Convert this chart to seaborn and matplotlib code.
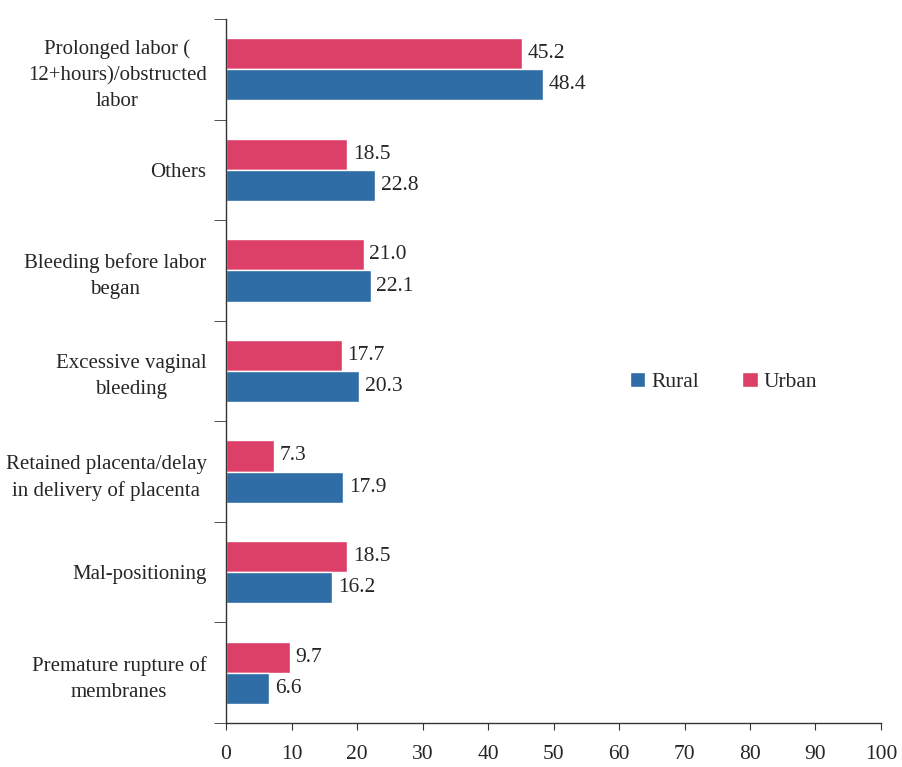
import numpy as np
import pandas as pd
import seaborn as sns
import matplotlib.pyplot as plt

categories = [
    "Prolonged labor (\n12+hours)/obstructed\nlabor",
    "Others",
    "Bleeding before labor\nbegan",
    "Excessive vaginal\nbleeding",
    "Retained placenta/delay\nin delivery of placenta",
    "Mal-positioning",
    "Premature rupture of\nmembranes",
]
urban = [45.2, 18.5, 21.0, 17.7, 7.3, 18.5, 9.7]
rural = [48.4, 22.8, 22.1, 20.3, 17.9, 16.2, 6.6]

df = pd.DataFrame({
    "category": categories * 2,
    "value": urban + rural,
    "area": ["Urban"] * len(categories) + ["Rural"] * len(categories),
})

sns.set_style("white")
plt.rcParams['font.family'] = ['Liberation Serif', 'DejaVu Serif']

colors = {"Urban": "#dc4068", "Rural": "#2e6da6"}

fig = plt.figure(figsize=(9.02, 7.67), dpi=100)
ax = fig.add_axes([0.2506, 0.0574, 0.7261, 0.9178])
sns.barplot(data=df, y="category", x="value", hue="area", hue_order=["Urban", "Rural"],
            palette=colors, orient="h", width=0.62, saturation=1, ax=ax)

for cont in ax.containers:
    ax.bar_label(cont, fmt="%.1f", padding=4, fontsize=15.5)

ax.set_xlim(0, 100)
ax.set_ylim(len(categories) - 0.5, -0.5)
ax.set_xticks(range(0, 101, 10))
ax.set_xlabel("")
ax.set_ylabel("")
ax.tick_params(axis="x", bottom=True, labelsize=15.5, direction="out", length=5,
               color="#333333", pad=11)
ax.tick_params(axis="y", which="major", left=False, labelsize=15, length=0, pad=14)
ax.set_yticks(np.arange(-0.5, len(categories), 1), minor=True)
ax.tick_params(axis="y", which="minor", left=True, length=9, direction="out", color="#333333")
for lab in ax.get_yticklabels():
    lab.set_multialignment("center")
    lab.set_linespacing(1.5)

sns.despine(ax=ax)
for s in ["left", "bottom"]:
    ax.spines[s].set_color("#333333")
    ax.spines[s].set_linewidth(1)

handles, labels = ax.get_legend_handles_labels()
order = [labels.index("Rural"), labels.index("Urban")]
ax.legend([handles[i] for i in order], [labels[i] for i in order], loc="center",
          bbox_to_anchor=(0.76, 0.485), ncol=2, frameon=False, fontsize=15.5,
          handlelength=0.7, handleheight=0.7, columnspacing=2.0, handletextpad=0.3)

fig.savefig("out.png", dpi=100)
